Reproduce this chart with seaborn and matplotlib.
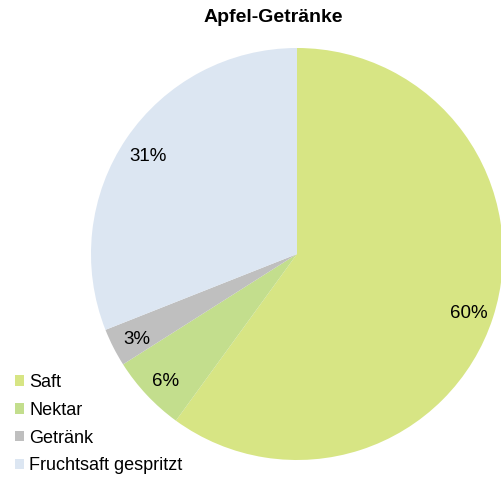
import matplotlib
matplotlib.use("Agg")
import matplotlib.pyplot as plt
import seaborn as sns

categories = ["Saft", "Nektar", "Getränk", "Fruchtsaft gespritzt"]
values = [60, 6, 3, 31]
colors = ["#d7e584", "#c3de8d", "#bfbfbf", "#dce6f2"]
title = "Apfel-Getränke"

sns.set_theme(style="white")
plt.rcParams["font.family"] = ["Liberation Sans", "DejaVu Sans"]
plt.rcParams["text.color"] = "black"

W, H = 502, 484
fig = plt.figure(figsize=(W / 100, H / 100), dpi=100)
cx, cy, r = 297, 254, 206
ax = fig.add_axes([(cx - r) / W, (H - cy - r) / H, 2 * r / W, 2 * r / H])

wedges, texts, autotexts = ax.pie(
    values,
    colors=colors,
    startangle=90,
    counterclock=False,
    autopct=lambda p: f"{p:.0f}%",
    pctdistance=0.875,
    radius=1.0,
    textprops={"fontsize": 13.5, "color": "black"},
    wedgeprops={"linewidth": 0},
)
for t in autotexts:
    x, y = t.get_position()
    t.set_position((x, y - 0.02))
ax.set_xlim(-1, 1)
ax.set_ylim(-1, 1)
ax.set_aspect("equal")
ax.axis("off")

fig.text(273 / W, 1 - 18 / H, title, ha="center", va="center",
         fontsize=14, fontweight="bold", color="black")

leg = fig.legend(
    wedges, categories,
    loc="upper left",
    bbox_to_anchor=(15 / W, 1 - 374 / H),
    frameon=False,
    fontsize=13,
    handlelength=0.5,
    handleheight=0.5,
    handletextpad=0.3,
    labelspacing=0.6,
    borderaxespad=0,
    borderpad=0,
)
for t in leg.get_texts():
    t.set_color("black")

fig.savefig("out.png", dpi=100)
